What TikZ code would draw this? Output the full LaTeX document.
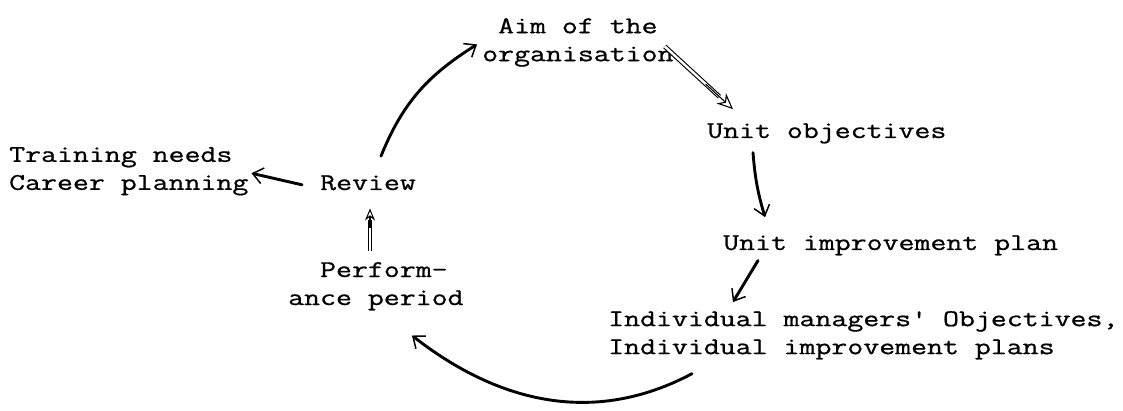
\documentclass[tikz,border=0pt]{standalone}
\usepackage{fontspec}
\newfontfamily\typeface[FakeStretch=1.29,FakeBold=0.8]{Latin Modern Mono}
\usetikzlibrary{arrows.meta,calc}
\begin{document}
\begin{tikzpicture}[x=1pt,y=1pt,
  txt/.style={font=\typeface\fontsize{24}{28}\selectfont, inner sep=0pt, align=left},
  flow/.style={line width=2.9pt, line cap=round,
    -{Straight Barb[length=10pt,width=16pt,line width=1.5pt]}},
  hollowshaft/.style={double, double distance=2.4pt, line width=1.1pt},
  hollowhead/.style={line width=1.1pt, -{Stealth[open,length=16pt,width=14pt,line width=1.1pt]}}
]
\useasboundingbox (0,0) rectangle (1123,-411);

% text blocks
\node[txt, anchor=north west] (aim)   at (482,-18)  {\phantom{o}Aim of the\\organisation};
\node[txt, anchor=base west]  (obj)   at (707,-138) {Unit objectives};
\node[txt, anchor=base west]  (uip)   at (723,-250) {Unit improvement plan};
\node[txt, anchor=north west] (ind)   at (608,-311) {Individual managers' Objectives,\\Individual improvement plans};
\node[txt, anchor=north west] (needs) at (9,-147)   {Training needs\\Career planning};
\node[txt, anchor=base west]  (rev)   at (320,-190) {Review};
\node[txt, anchor=north west] (perf)  at (288,-262) {\phantom{an}Perform-\\ance period};

% review -> aim of the organisation
\draw[flow] ([shift={(61,19)}]rev.north west) to[out=68,in=212] ([shift={(-5,-2)}]aim.west);

% aim -> unit objectives (hollow arrow)
\coordinate (a2s) at ([shift={(-9,-4)}]aim.east);
\coordinate (a2e) at ([shift={(26,14)}]obj.north west);
\draw[hollowshaft] (a2s) -- ($(a2s)!0.8!(a2e)$);
\draw[hollowhead] ($(a2s)!0.6!(a2e)$) -- (a2e);

% unit objectives -> unit improvement plan
\draw[flow] ([shift={(46,-9)}]obj.south west) to[bend right=6] ([shift={(42,18)}]uip.north west);

% unit improvement plan -> individual plans
\draw[flow] ([shift={(35,-5)}]uip.south west) -- ([shift={(125,9)}]ind.north west);

% individual plans -> performance period
\draw[flow] ([shift={(84,-14)}]ind.south west) to[out=208,in=-38] ([shift={(124,-25)}]perf.south west);

% performance period -> review (hollow arrow)
\coordinate (a6s) at ([shift={(82,11)}]perf.north west);
\coordinate (a6e) at ([shift={(50,-18)}]rev.south west);
\draw[hollowshaft, double distance=1.8pt, line width=0.9pt] (a6s) -- ($(a6s)!0.72!(a6e)$);
\draw[hollowhead, -{Stealth[open,length=12pt,width=10pt,line width=1pt]}] ($(a6s)!0.55!(a6e)$) -- (a6e);

% review -> training needs / career planning
\draw[flow] ([shift={(-18,-2)}]rev.west) -- ([shift={(3,-2)}]needs.east);
\end{tikzpicture}
\end{document}
